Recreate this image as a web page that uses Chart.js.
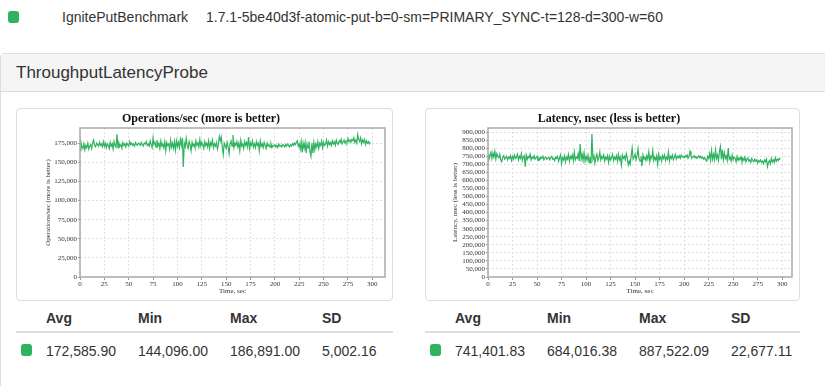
<!DOCTYPE html>
<html>
<head>
<meta charset="utf-8">
<script src="https://cdn.jsdelivr.net/npm/chart.js@4.4.1/dist/chart.umd.min.js"></script>
<style>
  body { margin: 0; background: #fff; font-family: "Liberation Sans", Arial, sans-serif; color: #333; width: 825px; height: 386px; overflow: hidden; position: relative; }
  .sq { position: absolute; width: 11px; height: 12px; background: #2eb35f; border-radius: 3px; }
  .txt { position: absolute; font-size: 14px; line-height: 18px; white-space: nowrap; }
  .panel { position: absolute; left: 0; top: 53px; width: 840px; height: 400px; border: 1px solid #ddd; border-radius: 4px; }
  .panel-head { height: 37px; background: #f5f5f5; border-bottom: 1px solid #ddd; }
  .panel-head span { position: absolute; left: 15px; top: 9px; font-size: 17px; line-height: 20px; color: #333; }
  .box { position: absolute; top: 108px; height: 191px; border: 1px solid #ddd; border-radius: 4px; }
  .box canvas { position: absolute; left: 0; top: 0; }
  .stats { position: absolute; top: 307px; }
  .stats .row { position: relative; height: 24px; }
  .stats .head { border-bottom: 2px solid #ddd; height: 24px; }
  .stats .cell { position: absolute; top: 2px; font-size: 14px; line-height: 18px; white-space: nowrap; }
  .stats .head .cell { font-weight: bold; }
  .stats .vals { margin-top: 7px; }
</style>
</head>
<body>
<div class="sq" style="left:8px;top:11px"></div>
<div class="txt" style="left:62px;top:8px">IgnitePutBenchmark</div>
<div class="txt" style="left:206px;top:8px">1.7.1-5be40d3f-atomic-put-b=0-sm=PRIMARY_SYNC-t=128-d=300-w=60</div>

<div class="panel"><div class="panel-head"><span>ThroughputLatencyProbe</span></div></div>

<div class="box" style="left:16px;width:375px"><canvas id="opsChart" width="375" height="191"></canvas></div>
<div class="box" style="left:425px;width:373px"><canvas id="latChart" width="373" height="191"></canvas></div>

<div class="stats" id="opsStats" style="left:16px;width:377px"></div>
<div class="stats" id="latStats" style="left:425px;width:375px"></div>

<script>
// DATOS:
const opsPerSec = [
  165300, 176100, 170400, 168200, 174500, 166300, 172200, 169400, 175100, 167300,
  171200, 173400, 168300, 176200, 179400, 172100, 170300, 175200, 173100, 171400,
  176300, 172200, 174100, 170300, 177200, 171100, 175300, 169200, 174400, 172300,
  168100, 176300, 171200, 174400, 167100, 177300, 172200, 170100, 186891, 169200,
  175100, 171300, 173200, 168400, 176100, 172300, 174200, 170100, 175300, 173200,
  171100, 177200, 173300, 175100, 172400, 174200, 171300, 176100, 173200, 172300,
  175200, 174100, 172300, 176200, 173100, 171400, 175300, 174200, 177100, 172300,
  174200, 171300, 178100, 173200, 169300, 182100, 173400, 176200, 170100, 179300,
  172100, 175300, 168200, 178100, 171300, 174200, 169100, 177300, 165200, 176100,
  172300, 174100, 167200, 179300, 170100, 175200, 168300, 177100, 166200, 178300,
  171100, 176300, 169200, 180100, 172300, 182200, 144096, 175100, 170300, 181200,
  172200, 168100, 177300, 173200, 165100, 176300, 171200, 174100, 169300, 178200,
  172100, 175300, 170200, 180100, 171300, 176200, 173100, 168300, 177200, 172100,
  175200, 170100, 178300, 168200, 176100, 172300, 179200, 169100, 174300, 171200,
  176100, 167300, 173200, 184100, 178300, 183200, 170100, 160300, 175200, 172100,
  168300, 176200, 170100, 161300, 174200, 178100, 171300, 185900, 169200, 175100,
  172300, 177200, 170100, 175300, 165200, 179100, 171300, 174200, 168100, 177300,
  172200, 176100, 170300, 183200, 168100, 175300, 172200, 178100, 170300, 174200,
  169100, 177300, 172200, 175100, 165300, 178200, 171100, 174300, 169200, 176100,
  172300, 168200, 175100, 171300, 173200, 170100, 174300, 169200, 172100, 171300,
  173200, 170100, 172300, 169200, 174100, 171300, 172200, 170100, 173300, 172200,
  170100, 173300, 171200, 174100, 172300, 170200, 173100, 171300, 174200, 172100,
  175300, 173200, 176100, 178300, 171200, 174100, 167300, 177200, 163100, 175300,
  168200, 176100, 162300, 174200, 169100, 177300, 164200, 158100, 175300, 162200,
  176100, 166300, 174200, 170100, 177300, 168200, 175100, 172300, 178200, 169100,
  176300, 172200, 174100, 179300, 171200, 177100, 173300, 176200, 172100, 178300,
  174200, 177100, 172300, 179200, 175100, 173300, 178200, 176100, 180300, 174200,
  177100, 179300, 175200, 178100, 176300, 181200, 177100, 179300, 176200, 180100,
  178300, 182200, 176100, 179300, 175200, 186500, 180100, 177300, 182200, 174100,
  179300, 176200, 180100, 173300, 178200, 175100, 177300, 174200, 176100
];

const latencyNs = [
  760400, 728100, 752300, 775200, 736400, 770100, 744300, 780200, 732100, 766300,
  749200, 740100, 762300, 727400, 715200, 744100, 753300, 731200, 740400, 749100,
  727300, 744200, 736100, 753400, 723200, 749100, 731300, 757200, 736100, 744300,
  762200, 727100, 749300, 736200, 766100, 723400, 744200, 753100, 684016, 757300,
  731200, 749100, 740300, 762200, 727100, 744300, 736200, 753100, 731400, 740200,
  749100, 723300, 740200, 731100, 744400, 736200, 749100, 727300, 740100, 744200,
  731300, 736100, 744200, 727400, 740100, 749300, 731200, 736100, 723300, 744200,
  736100, 749300, 719200, 740100, 757300, 703200, 740100, 727300, 753200, 715100,
  744300, 731200, 762100, 719300, 749200, 736100, 757300, 723200, 776100, 727300,
  744200, 736100, 766300, 720200, 825100, 731300, 762200, 723100, 771300, 719200,
  749100, 727300, 757200, 711100, 744300, 703200, 887522, 731100, 753300, 707200,
  744100, 762300, 723200, 740100, 776300, 727200, 749100, 736300, 757200, 719100,
  744300, 731200, 753100, 711300, 749200, 727100, 740300, 762200, 723100, 744300,
  731200, 753100, 719300, 762200, 727100, 744300, 695200, 757100, 736300, 749200,
  727100, 766300, 740200, 696100, 719300, 699200, 753100, 800300, 731200, 744100,
  762300, 727200, 753100, 795300, 736200, 719100, 749300, 688200, 757100, 731300,
  744200, 723100, 753300, 731200, 776100, 715300, 749200, 736100, 785300, 723200,
  744100, 727300, 753200, 699100, 762300, 731200, 744100, 719300, 753200, 736100,
  757300, 723200, 744100, 731300, 776200, 719100, 749300, 736200, 757100, 727300,
  744200, 762100, 731300, 749200, 740100, 753300, 736200, 757100, 744300, 749200,
  740100, 753300, 744200, 757100, 736300, 749200, 780100, 753300, 740200, 744100,
  753300, 740200, 749100, 736300, 744200, 753100, 740300, 749200, 736100, 744300,
  731200, 740100, 727300, 719200, 749100, 736300, 766200, 723100, 785300, 731200,
  762100, 727300, 790200, 736100, 757300, 723200, 780100, 810300, 731200, 790100,
  727300, 771200, 736100, 753300, 723200, 800100, 731300, 744200, 719100, 757300,
  727200, 744100, 736300, 715200, 749100, 723300, 740200, 727100, 744300, 719200,
  736100, 723300, 744200, 715100, 731300, 740200, 719100, 727300, 711200, 736100,
  723300, 715200, 731100, 719300, 727200, 707100, 723300, 715200, 727100, 711300,
  719200, 703100, 727300, 715200, 731100, 685200, 711300, 723200, 703100, 736300,
  715200, 727100, 711300, 740200, 719100, 731300, 723200, 736100, 729300
];

const seconds = opsPerSec.map((v, i) => i);

// marcas de los ejes
const timeTicks = [0, 25, 50, 75, 100, 125, 150, 175, 200, 225, 250, 275, 300];
const opsTicks = [0, 25000, 50000, 75000, 100000, 125000, 150000, 175000];
const latencyTicks = [0, 50000, 100000, 150000, 200000, 250000, 300000, 350000, 400000,
    450000, 500000, 550000, 600000, 650000, 700000, 750000, 800000, 850000, 900000];

const statNames = ["Avg", "Min", "Max", "SD"];
const opsStats = ["172,585.90", "144,096.00", "186,891.00", "5,002.16"];
const latencyStats = ["741,401.83", "684,016.38", "887,522.09", "22,677.11"];

const GREEN = "#2eb35f";
const SERIF = "'Liberation Serif', 'Times New Roman', serif";

// borde del area de trazado
const plotBorder = {
    id: "plotBorder",
    afterDatasetsDraw(chart) {
        const { ctx, chartArea: a } = chart;
        ctx.save();
        ctx.strokeStyle = "#aaa";
        ctx.lineWidth = 1.5;
        ctx.strokeRect(a.left, a.top, a.right - a.left, a.bottom - a.top);
        ctx.restore();
    }
};

function crearGrafico(id, titulo, ejeY, valores, yTicks, yMax, xMax, anchoY, tituloYPad) {
    new Chart(document.getElementById(id), {
        type: "line",
        data: {
            labels: seconds,
            datasets: [{
                data: valores,
                borderColor: GREEN,
                borderWidth: 1.2,
                pointRadius: 0,
                tension: 0,
                fill: false
            }]
        },
        options: {
            responsive: false,
            animation: false,
            devicePixelRatio: 1,
            locale: "en-US",
            layout: { padding: { left: 0, right: 7, top: 0, bottom: 0 } },
            plugins: {
                legend: { display: false },
                tooltip: { enabled: false },
                title: {
                    display: true,
                    text: titulo,
                    color: "#111",
                    font: { family: SERIF, size: 12, weight: "bold", lineHeight: 1.2 },
                    padding: { top: 2.5, bottom: 2.1 }
                }
            },
            scales: {
                x: {
                    type: "linear",
                    min: 0,
                    max: xMax,
                    afterFit(scale) { scale.height = 23; },
                    afterBuildTicks(scale) { scale.ticks = timeTicks.map(v => ({ value: v })); },
                    ticks: {
                        maxRotation: 0,
                        autoSkip: false,
                        padding: 0,
                        color: "#333",
                        font: { family: SERIF, size: 7 }
                    },
                    grid: { color: "#e0e0e0", tickLength: 3, tickColor: "#999" },
                    border: { display: false, dash: [2, 2] },
                    title: {
                        display: true,
                        text: "Time, sec",
                        color: "#333",
                        font: { family: SERIF, size: 7, lineHeight: 1.2 },
                        padding: { top: 0, bottom: 4.8 }
                    }
                },
                y: {
                    min: 0,
                    max: yMax,
                    afterFit(scale) { scale.width = anchoY; },
                    afterBuildTicks(scale) { scale.ticks = yTicks.map(v => ({ value: v })); },
                    ticks: {
                        autoSkip: false,
                        padding: 1,
                        color: "#333",
                        font: { family: SERIF, size: 7 }
                    },
                    grid: { color: "#e0e0e0", tickLength: 2, tickColor: "#999" },
                    border: { display: false, dash: [2, 2] },
                    title: {
                        display: true,
                        text: ejeY,
                        color: "#333",
                        font: { family: SERIF, size: 7, lineHeight: 1.2 },
                        padding: { top: tituloYPad, bottom: 0 }
                    }
                }
            }
        },
        plugins: [plotBorder]
    });
}

function mostrarStats(id, valores) {
    let html = `<div class="row head">`;
    statNames.forEach((nombre, i) => {
        html += `<span class="cell" style="left:${30 + i * 92}px">${nombre}</span>`;
    });
    html += `</div><div class="row vals"><div class="sq" style="left:5px;top:4px"></div>`;
    valores.forEach((valor, i) => {
        html += `<span class="cell" style="left:${30 + i * 92}px">${valor}</span>`;
    });
    html += `</div>`;
    document.getElementById(id).innerHTML = html;
}

crearGrafico("opsChart", "Operations/sec (more is better)", "Operations/sec (more is better)",
    opsPerSec, opsTicks, 195000, 313, 63, 26.8);
crearGrafico("latChart", "Latency, nsec (less is better)", "Latency, nsec (less is better)",
    latencyNs, latencyTicks, 925000, 310, 62, 24.8);

mostrarStats("opsStats", opsStats);
mostrarStats("latStats", latencyStats);
</script>
</body>
</html>
